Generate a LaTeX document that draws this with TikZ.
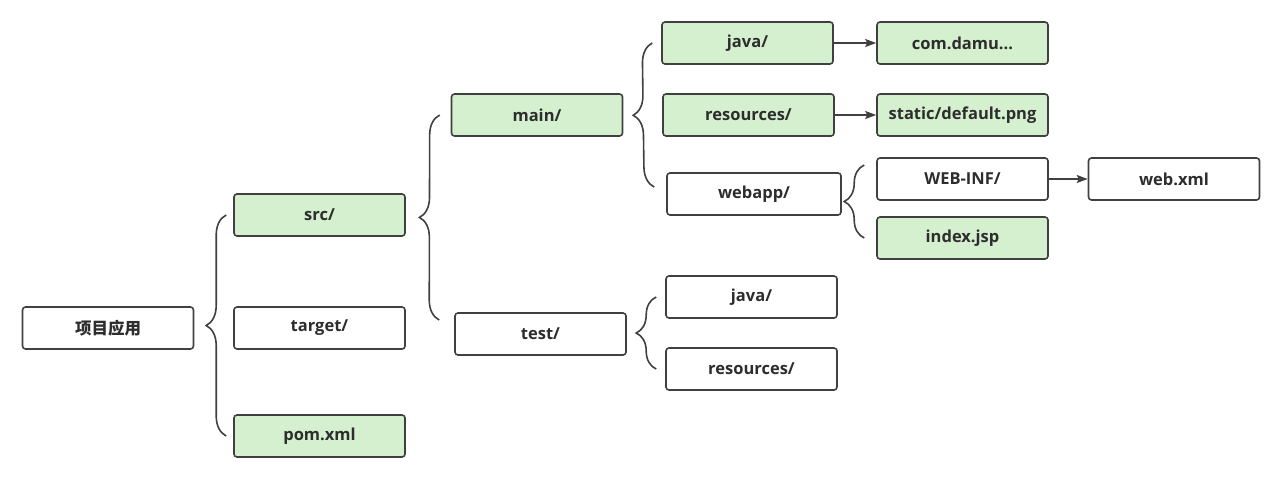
\documentclass[tikz,border=0pt]{standalone}
\usepackage{fontspec}
\setmainfont{Open Sans}
\newfontfamily\cjk{Noto Sans CJK SC}
\usepackage{tikz}
\usetikzlibrary{arrows.meta,calc,decorations.pathreplacing}

\definecolor{boxgreen}{RGB}{212,240,206}
\definecolor{linegray}{RGB}{64,64,64}
\definecolor{textgray}{RGB}{45,45,45}

\begin{document}
\begin{tikzpicture}[x=1pt,y=-1pt,>={Stealth[length=11pt,width=8pt,inset=2pt]},line width=1.6pt,
                    every node/.style={font=\fontsize{16.5}{20}\selectfont\bfseries,text=textgray},
                    plain box/.style={draw=linegray,rounded corners=3pt,fill=white,
                                      minimum width=171pt,minimum height=42pt,inner sep=0pt},
                    green box/.style={plain box,fill=boxgreen},
                    brace/.style={draw=linegray,decorate,decoration={brace,amplitude=20pt}},
                    arrow/.style={->,draw=linegray}]

  \useasboundingbox (0,0) rectangle (1284,500);

  \node[plain box]                   (root)   at (108,328)   {\cjk\bfseries 项目应用};
  \node[green box]                   (src)    at (319.5,215) {src/};
  \node[plain box]                   (target) at (319.5,328) {target/};
  \node[green box]                   (pom)    at (319.5,436) {pom.xml};
  \node[green box]                   (main)   at (537,115)   {main/};
  \node[plain box]                   (test)   at (540.5,334) {test/};
  \node[green box]                   (java)   at (747.5,43)  {java/};
  \node[green box]                   (res)    at (748.5,115) {resources/};
  \node[plain box,minimum width=174pt] (webapp) at (754,194) {webapp/};
  \node[green box]                   (com)    at (962.5,43)  {com.damu...};
  \node[green box]                   (static) at (962.5,115) {static/default.png};
  \node[plain box]                   (webinf) at (962.5,179) {WEB-INF/};
  \node[green box]                   (index)  at (962.5,238) {index.jsp};
  \node[plain box]                   (webxml) at (1174,179)  {web.xml};
  \node[plain box]                   (tjava)  at (751.5,297) {java/};
  \node[plain box]                   (tres)   at (751.5,369) {resources/};

  % braces
  \draw[brace] ($(pom.west)+(-7,0)$)     -- ($(src.west)+(-7,0)$);
  \draw[brace] ($(test.west)+(-15,-14)$) -- ($(main.west)+(-11,0)$);
  \draw[brace] ($(webapp.west)+(-12,-7)$) -- ($(java.west)+(-9,0)$);
  \draw[brace] ($(index.west)+(-12,0)$)  -- ($(webinf.west)+(-12,-14)$);
  \draw[brace] ($(tres.west)+(-9,0)$)    -- ($(tjava.west)+(-9,0)$);

  % arrows
  \path (java)   edge[arrow] (com)
        (res)    edge[arrow] (static)
        (webinf) edge[arrow] (webxml);
\end{tikzpicture}
\end{document}
